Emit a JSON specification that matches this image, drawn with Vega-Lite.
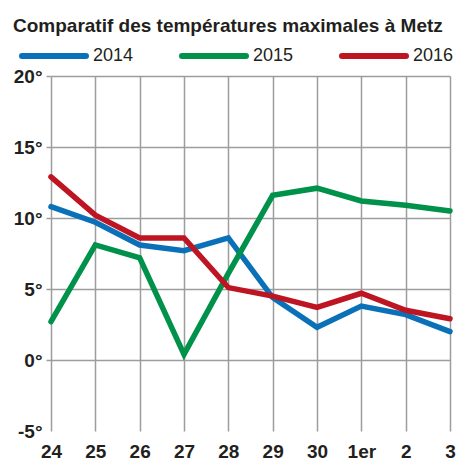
{
  "$schema": "https://vega.github.io/schema/vega-lite/v6.json",
  "width": 409,
  "height": 355,
  "autosize": {"type": "none"},
  "padding": {"left": 51, "top": 76, "right": 0, "bottom": 33},
  "background": "white",
  "title": {
    "text": "Comparatif des températures maximales à Metz",
    "anchor": "start",
    "frame": "group",
    "font": "Liberation Sans",
    "fontSize": 19,
    "fontWeight": "bold",
    "color": "#231f20",
    "dx": -38,
    "offset": -15
  },
  "data": {
    "values": [
      {"jour": "24", "annee": "2014", "temp": 10.8},
      {"jour": "25", "annee": "2014", "temp": 9.7},
      {"jour": "26", "annee": "2014", "temp": 8.1},
      {"jour": "27", "annee": "2014", "temp": 7.7},
      {"jour": "28", "annee": "2014", "temp": 8.6},
      {"jour": "29", "annee": "2014", "temp": 4.4},
      {"jour": "30", "annee": "2014", "temp": 2.3},
      {"jour": "1er", "annee": "2014", "temp": 3.8},
      {"jour": "2", "annee": "2014", "temp": 3.2},
      {"jour": "3", "annee": "2014", "temp": 2.0},
      {"jour": "24", "annee": "2015", "temp": 2.7},
      {"jour": "25", "annee": "2015", "temp": 8.1},
      {"jour": "26", "annee": "2015", "temp": 7.2},
      {"jour": "27", "annee": "2015", "temp": 0.4},
      {"jour": "28", "annee": "2015", "temp": 6.1},
      {"jour": "29", "annee": "2015", "temp": 11.6},
      {"jour": "30", "annee": "2015", "temp": 12.1},
      {"jour": "1er", "annee": "2015", "temp": 11.2},
      {"jour": "2", "annee": "2015", "temp": 10.9},
      {"jour": "3", "annee": "2015", "temp": 10.5},
      {"jour": "24", "annee": "2016", "temp": 12.9},
      {"jour": "25", "annee": "2016", "temp": 10.2},
      {"jour": "26", "annee": "2016", "temp": 8.6},
      {"jour": "27", "annee": "2016", "temp": 8.6},
      {"jour": "28", "annee": "2016", "temp": 5.1},
      {"jour": "29", "annee": "2016", "temp": 4.5},
      {"jour": "30", "annee": "2016", "temp": 3.7},
      {"jour": "1er", "annee": "2016", "temp": 4.7},
      {"jour": "2", "annee": "2016", "temp": 3.5},
      {"jour": "3", "annee": "2016", "temp": 2.9}
    ]
  },
  "mark": {"type": "line", "strokeWidth": 5.5, "strokeCap": "round", "strokeJoin": "miter"},
  "encoding": {
    "x": {
      "field": "jour",
      "type": "ordinal",
      "sort": ["24", "25", "26", "27", "28", "29", "30", "1er", "2", "3"],
      "scale": {"type": "point", "range": [0, 399], "padding": 0},
      "axis": {
        "title": null,
        "grid": true,
        "gridColor": "#9d9d9d",
        "gridWidth": 1.5,
        "ticks": false,
        "domain": false,
        "labelAngle": 0,
        "labelFont": "Liberation Sans",
        "labelFontSize": 19,
        "labelFontWeight": "bold",
        "labelColor": "#231f20",
        "labelPadding": 11
      }
    },
    "y": {
      "field": "temp",
      "type": "quantitative",
      "scale": {"domain": [-5, 20], "nice": false},
      "axis": {
        "title": null,
        "values": [-5, 0, 5, 10, 15, 20],
        "labelExpr": "datum.value + '°'",
        "grid": true,
        "gridColor": {"condition": {"test": "datum.value === -5", "value": "rgba(0,0,0,0)"}, "value": "#9d9d9d"},
        "gridWidth": 1.5,
        "tickSize": 5,
        "tickWidth": 1.5,
        "tickColor": {"condition": {"test": "datum.value === -5", "value": "rgba(0,0,0,0)"}, "value": "#9d9d9d"},
        "domain": false,
        "labelFont": "Liberation Sans",
        "labelFontSize": 19,
        "labelFontWeight": "bold",
        "labelColor": "#231f20",
        "labelPadding": 4
      }
    },
    "color": {
      "field": "annee",
      "type": "nominal",
      "scale": {"domain": ["2014", "2015", "2016"], "range": ["#0a71b9", "#00924a", "#be1522"]},
      "legend": {
        "orient": "none",
        "legendX": -32,
        "legendY": -55,
        "direction": "horizontal",
        "title": null,
        "symbolType": "stroke",
        "symbolSize": 4096,
        "symbolStrokeWidth": 6,
        "labelFont": "Liberation Sans",
        "labelFontSize": 18,
        "labelColor": "#231f20",
        "labelOffset": 4,
        "columnPadding": 36,
        "encode": {"symbols": {"update": {"strokeCap": {"value": "round"}}}}
      }
    }
  },
  "config": {"view": {"stroke": null}}
}
